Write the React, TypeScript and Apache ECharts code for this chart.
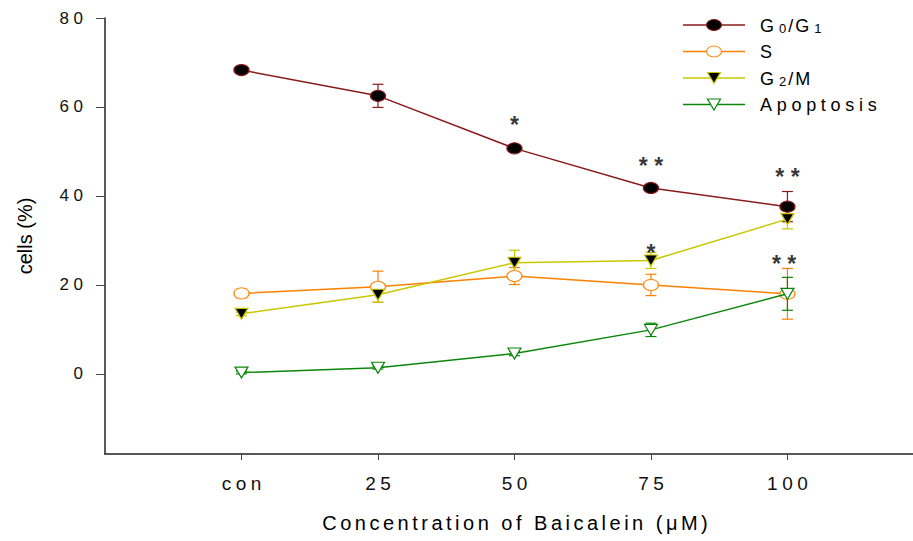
import React, { useEffect, useRef } from 'react';
import * as echarts from 'echarts';

const FONT = '"Liberation Sans", Arial, Helvetica, sans-serif';

// ---- data ----
const concentrations = [0, 25, 50, 75, 100];
const xTickLabels = ['con', '25', '50', '75', '100'];
const yTickValues = [0, 20, 40, 60, 80];

const g0g1Values = [68.3, 62.5, 50.7, 41.8, 37.6];
const g0g1Errors = [0.4, 2.6, 0.4, 0.4, 3.4];
const sValues = [18.1, 19.6, 22.0, 20.0, 18.0];
const sErrors = [1.0, 3.5, 1.9, 2.4, 5.7];
const g2mValues = [13.5, 17.8, 25.0, 25.5, 34.8];
const g2mErrors = [0.4, 1.7, 2.8, 1.8, 2.2];
const apoptosisValues = [0.3, 1.4, 4.6, 9.9, 18.0];
const apoptosisErrors = [0.3, 0.3, 0.5, 1.5, 3.7];

const seriesNames = ['G0/G1', 'S', 'G2/M', 'Apoptosis'];
const legendTexts = ['{a|G}{s|0}{p|/}{a|G}{s|1}', 'S', '{a|G}{s|2}{p|/}{a|M}', 'Apoptosis'];

const sigLabels = ['*', '* *', '* *', '* *', '*'];
const sigX = [50, 75, 100, 99.4, 75];
const sigY = [57.1, 47.9, 45.4, 25.9, 28.4];

const xTitle = 'Concentration of Baicalein (\u03bcM)';
const yTitle = 'cells (%)';

// ---- styles ----
const styles = [
  { line: '#8b1a1a', fill: '#000000', border: '#8b1a1a', symbol: 'circle', rotate: 0, size: [15, 11] },
  { line: '#ff8000', fill: '#ffffff', border: '#ff8c1a', symbol: 'circle', rotate: 0, size: [15, 11] },
  { line: '#c8c800', fill: '#000000', border: '#c8c800', symbol: 'triangle', rotate: 180, size: [13, 11] },
  { line: '#0a870a', fill: '#ffffff', border: '#0a870a', symbol: 'triangle', rotate: 180, size: [13, 11] },
];
const valuesList = [g0g1Values, sValues, g2mValues, apoptosisValues];
const errorsList = [g0g1Errors, sErrors, g2mErrors, apoptosisErrors];

const spacingFor = (t: string, anchor: string): number => {
  if (t === xTitle) return 3.5;
  if (anchor === 'end' && ['0', '20', '40', '60', '80'].includes(t)) return 4.5;
  if (anchor === 'middle' && xTickLabels.includes(t)) return 4.5;
  if (t === 'S' || t === 'Apoptosis') return 4.7;
  return 0;
};

const applySpacing = (root: HTMLElement | null) => {
  if (!root) return;
  root.querySelectorAll('text').forEach((el: any) => {
    const t = el.textContent || '';
    const anchor = el.getAttribute('text-anchor') || el.style.textAnchor || 'start';
    const s = spacingFor(t, anchor);
    if (!s) return;
    el.style.letterSpacing = s + 'px';
    const shift = anchor === 'middle' ? s / 2 : anchor === 'end' ? s : 0;
    if (!shift) return;
    const cur = el.getAttribute('x') || '0';
    if (el.dataset && el.dataset.shifted === cur) return;
    const nx = String(parseFloat(cur) + shift);
    el.setAttribute('x', nx);
    if (el.dataset) el.dataset.shifted = nx;
  });
};

export default function App() {
  const ref = useRef<HTMLDivElement>(null);

  useEffect(() => {
    if (!ref.current) return;
    const chart = echarts.init(ref.current, undefined, { renderer: 'svg' });

    const series: any[] = [];
    styles.forEach((st, i) => {
      series.push({
        type: 'custom',
        name: seriesNames[i] + ' error',
        silent: true,
        z: 2,
        encode: { x: 0, y: 1 },
        data: concentrations.map((x, j) => [x, valuesList[i][j], errorsList[i][j]]),
        renderItem: (_params: any, api: any) => {
          const x = api.value(0);
          const y = api.value(1);
          const e = api.value(2);
          const top = api.coord([x, y + e]);
          const bot = api.coord([x, y - e]);
          const hw = 5.5;
          const ls = { stroke: st.line, lineWidth: 1.2 };
          return {
            type: 'group',
            children: [
              { type: 'line', shape: { x1: top[0], y1: top[1], x2: bot[0], y2: bot[1] }, style: ls },
              { type: 'line', shape: { x1: top[0] - hw, y1: top[1], x2: top[0] + hw, y2: top[1] }, style: ls },
              { type: 'line', shape: { x1: bot[0] - hw, y1: bot[1], x2: bot[0] + hw, y2: bot[1] }, style: ls },
            ],
          };
        },
      });
    });
    styles.forEach((st, i) => {
      series.push({
        type: 'line',
        name: seriesNames[i],
        silent: true,
        z: 3 + i,
        data: concentrations.map((x, j) => [x, valuesList[i][j]]),
        symbol: st.symbol,
        symbolSize: st.size,
        symbolRotate: st.rotate,
        showSymbol: true,
        lineStyle: { color: st.line, width: 1.5 },
        itemStyle: { color: st.fill, borderColor: st.border, borderWidth: 1.2 },
        emphasis: { disabled: true },
      });
    });
    series.push({
      type: 'scatter',
      name: 'significance',
      silent: true,
      z: 10,
      symbolSize: 1,
      itemStyle: { color: 'rgba(0,0,0,0)' },
      data: sigX.map((x, i) => ({ name: sigLabels[i], value: [x, sigY[i]] })),
      label: {
        show: true,
        position: 'inside',
        formatter: '{b}',
        fontSize: 23,
        fontWeight: 'bold',
        fontFamily: FONT,
        color: '#000',
        offset: [0, 5],
      },
    });

    const legendRowsY = [25, 51.5, 78, 104.5];
    const graphics: any[] = [];
    styles.forEach((st, i) => {
      const y = legendRowsY[i];
      graphics.push({
        type: 'line',
        shape: { x1: 683, y1: y, x2: 745, y2: y },
        style: { stroke: st.line, lineWidth: 1.5 },
        z: 20,
      });
      if (st.symbol === 'circle') {
        graphics.push({
          type: 'ellipse',
          shape: { cx: 714, cy: y, rx: 7.5, ry: 5.5 },
          style: { fill: st.fill, stroke: st.border, lineWidth: 1.2 },
          z: 21,
        });
      } else {
        graphics.push({
          type: 'polygon',
          shape: { points: [[707.5, y - 5.5], [720.5, y - 5.5], [714, y + 5.5]] },
          style: { fill: st.fill, stroke: st.border, lineWidth: 1.2 },
          z: 21,
        });
      }
      const isRich = legendTexts[i].includes('{');
      graphics.push({
        type: 'text',
        x: 760,
        y: isRich ? y + 1 : y,
        z: 21,
        style: {
          text: legendTexts[i],
          fontSize: 18,
          fontFamily: FONT,
          fill: '#000',
          align: 'left',
          textAlign: 'left',
          verticalAlign: 'middle',
          textVerticalAlign: 'middle',
          rich: {
            a: { fontSize: 18, fontFamily: FONT, fill: '#000', color: '#000', padding: [0, 5, 0, 0], verticalAlign: 'bottom' },
            s: { fontSize: 13, fontFamily: FONT, fill: '#000', color: '#000', padding: [0, 2, 0, 0], verticalAlign: 'bottom' },
            p: { fontSize: 18, fontFamily: FONT, fill: '#000', color: '#000', padding: [0, 2, 0, 0], verticalAlign: 'bottom' },
          },
        },
      });
    });
    graphics.push({
      type: 'text',
      x: 515,
      y: 523,
      style: {
        text: xTitle,
        fontSize: 20,
        fontFamily: FONT,
        fill: '#000',
        align: 'center',
        textAlign: 'center',
        verticalAlign: 'middle',
        textVerticalAlign: 'middle',
      },
    });
    graphics.push({
      type: 'text',
      x: 25,
      y: 236,
      rotation: Math.PI / 2,
      style: {
        text: yTitle,
        fontSize: 20,
        fontFamily: FONT,
        fill: '#000',
        align: 'center',
        textAlign: 'center',
        verticalAlign: 'middle',
        textVerticalAlign: 'middle',
      },
    });

    const axisLineStyle = { color: '#222', width: 1.5 };
    const option: any = {
      animation: false,
      backgroundColor: '#ffffff',
      grid: { left: 105, right: 0, top: 18, bottom: 87, containLabel: false, outerBoundsMode: 'none' },
      xAxis: {
        type: 'value',
        min: -25,
        max: 123,
        axisLine: { show: true, onZero: false, lineStyle: axisLineStyle },
        axisTick: { show: true, inside: false, length: 6, customValues: concentrations, lineStyle: { color: '#444', width: 1 } },
        axisLabel: {
          customValues: concentrations,
          formatter: (v: number) => {
            const k = concentrations.indexOf(Math.round(v));
            return k >= 0 ? xTickLabels[k] : '';
          },
          fontSize: 19,
          fontFamily: FONT,
          color: '#111',
          margin: 29,
          verticalAlign: 'middle',
        },
        splitLine: { show: false },
      },
      yAxis: {
        type: 'value',
        min: -18,
        max: 80,
        axisLine: { show: true, onZero: false, lineStyle: axisLineStyle },
        axisTick: { show: true, inside: false, length: 9, customValues: yTickValues, lineStyle: { color: '#444', width: 1 } },
        axisLabel: {
          customValues: yTickValues,
          fontSize: 17,
          fontFamily: FONT,
          color: '#111',
          margin: 22,
        },
        splitLine: { show: false },
      },
      graphic: graphics,
      series,
    };

    chart.setOption(option);
    applySpacing(ref.current);
    chart.on('finished', () => applySpacing(ref.current));
    const t = setTimeout(() => applySpacing(ref.current), 50);

    return () => {
      clearTimeout(t);
      chart.dispose();
    };
  }, []);

  return (
    <div
      ref={ref}
      style={{ position: 'fixed', left: 0, top: 0, width: 913, height: 541, background: '#fff' }}
    />
  );
}
